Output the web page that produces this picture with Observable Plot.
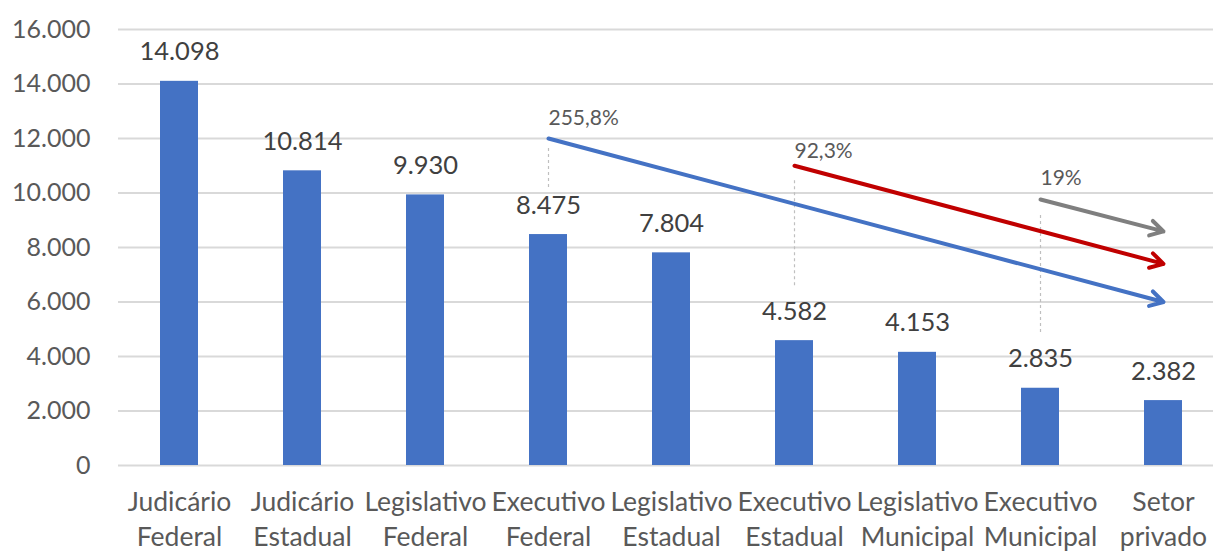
<!DOCTYPE html>
<html>
<head>
<meta charset="utf-8">
<script src="https://cdn.jsdelivr.net/npm/d3@7"></script>
<script src="https://cdn.jsdelivr.net/npm/@observablehq/plot@0.6"></script>
<style>
  html, body { margin: 0; padding: 0; background: #fff; overflow: hidden; }
  #chart { width: 1213px; height: 551px; overflow: hidden; }
  #chart svg { max-width: none !important; }
</style>
</head>
<body>
<div id="chart"></div>
<script>
// ---- data ----
const categories = [
  "Judicário Federal", "Judicário Estadual", "Legislativo Federal", "Executivo Federal",
  "Legislativo Estadual", "Executivo Estadual", "Legislativo Municipal", "Executivo Municipal",
  "Setor privado"
];
const values = [14098, 10814, 9930, 8475, 7804, 4582, 4153, 2835, 2382];
const yTicks = [0, 2000, 4000, 6000, 8000, 10000, 12000, 14000, 16000];

// annotation arrows
const arrowFrom = ["Executivo Federal", "Executivo Estadual", "Executivo Municipal"];
const arrowTo = ["Setor privado", "Setor privado", "Setor privado"];
const arrowStart = [12000, 11000, 9760];
const arrowEnd = [6000, 7400, 8590];
const arrowLabels = ["255,8%", "92,3%", "19%"];
const arrowLabelY = [12510, 11270, 10280];
const arrowColors = ["#4472C4", "#C00000", "#7F7F7F"];
const dashTop = [11670, 10530, 9280];
const dashBottom = [10200, 6600, 4880];

// ---- build ----
const locale = d3.formatLocale({decimal: ",", thousands: ".", grouping: [3], currency: ["", ""]});
const fmt = locale.format(",");

const bars = categories.map((c, i) => ({cat: c, value: values[i]}));
const arrows = arrowFrom.map((c, i) => ({
  from: c, to: arrowTo[i], y1: arrowStart[i], y2: arrowEnd[i],
  label: arrowLabels[i], ly: arrowLabelY[i], color: arrowColors[i],
  dt: dashTop[i], db: dashBottom[i]
}));

const chart = Plot.plot({
  width: 1225,
  height: 551,
  marginLeft: 118,
  marginRight: 0,
  marginTop: 29,
  marginBottom: 86,
  style: {fontFamily: "Lato, 'Noto Sans', sans-serif", background: "#fff", overflow: "visible", maxWidth: "none"},
  x: {domain: categories, paddingInner: 0.69, paddingOuter: 0.345, label: null},
  y: {domain: [0, 16000], label: null},
  marks: [
    Plot.ruleY(yTicks, {stroke: "#D9D9D9", strokeWidth: 2}),
    Plot.axisY(yTicks, {
      tickSize: 0, tickPadding: 28, fontSize: 25, fill: "#595959",
      tickFormat: fmt, label: null
    }),
    Plot.axisX({
      tickSize: 0, tickPadding: 21, fontSize: 26.5, fill: "#595959", lineHeight: 1.32,
      tickFormat: d => d.replace(" ", "\n"), label: null
    }),
    Plot.barY(bars, {x: "cat", y: "value", fill: "#4472C4"}),
    Plot.text(bars, {
      x: "cat", y: "value", text: d => fmt(d.value), dy: -21, lineAnchor: "bottom",
      fontSize: 25.5, fill: "#404040"
    }),
    Plot.ruleX(arrows, {
      x: "from", y1: "db", y2: "dt", stroke: "#BFBFBF", strokeWidth: 1.2, strokeDasharray: "3,3"
    }),
    Plot.arrow(arrows, {
      x1: "from", y1: "y1", x2: "to", y2: "y2", stroke: "color",
      strokeWidth: 4, headLength: 5.6, headAngle: 60, strokeLinecap: "round"
    }),
    Plot.text(arrows, {
      x: "from", y: "ly", text: "label", textAnchor: "start", lineAnchor: "bottom",
      fontSize: 21, fill: "#595959"
    })
  ]
});
document.getElementById("chart").appendChild(chart);
</script>
</body>
</html>
